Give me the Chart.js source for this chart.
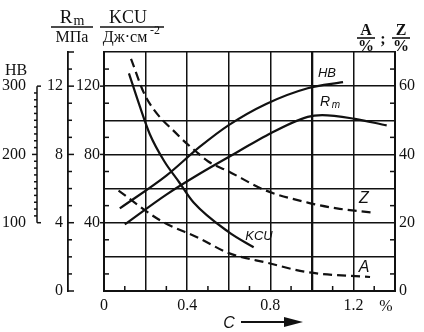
<!DOCTYPE html>
<html>
<head>
<meta charset="utf-8">
<script src="https://cdn.jsdelivr.net/npm/chart.js@4"></script>
<style>
body{margin:0;background:#fff}
canvas{display:block}
</style>
</head>
<body>
<canvas id="steel" width="424" height="332"></canvas>
<script>
// carbon content, % and the properties read against it
const hbC=[0.076,0.3,0.46,0.6,0.78,0.98,1.15]
const hbVal=[121,169,211,243,274,297,306]

const rmC=[0.1,0.3,0.46,0.65,0.78,0.98,1.05,1.2,1.36]
const rmVal=[3.9,5.65,6.87,8.2,9.1,10.2,10.3,10.1,9.7]

const kcuC=[0.12,0.17,0.22,0.29,0.36,0.43,0.6,0.72]
const kcuVal=[127.5,109,92,76,64,52,34.5,25.6]

const zC=[0.13,0.2,0.36,0.44,0.5,0.6,0.78,0.98,1.12,1.29]
const zVal=[68,57,45.4,41,38,35,29.4,25.9,24.2,23]

const aC=[0.07,0.27,0.46,0.6,0.79,0.98,1.28]
const aVal=[29.4,20.7,15.4,11.1,8.2,5.5,4.1]

const cLabels=[0,0.4,0.8,1.2]
const hbLabels=[100,200,300]
const rmLabels=[0,4,8,12]
const kcuLabels=[40,80,120]
const pctLabels=[0,20,40,60]

const INK="#111"
const SERIF='"Liberation Serif", serif'

function pts(xs,ys){
return xs.map((c,i)=>({x:c,y:ys[i]}))
}

function line(data,axis,dashed){
return {
data:data,
yAxisID:axis,
borderColor:INK,
borderWidth:2.2,
borderDash:dashed?[9,5]:[],
pointRadius:0,
fill:false,
cubicInterpolationMode:"monotone"
}
}

const near=(v,list)=>list.some(l=>Math.abs(v-l)<1e-6)

// ticks, brackets and all the lettering round the plot
const marks={
id:"marks",
afterDraw(chart){

const ctx=chart.ctx
const a=chart.chartArea
const s=chart.scales

ctx.save()
ctx.strokeStyle=INK
ctx.fillStyle=INK
ctx.lineWidth=1.5

const seg=(x1,y1,x2,y2)=>{
ctx.beginPath()
ctx.moveTo(x1,y1)
ctx.lineTo(x2,y2)
ctx.stroke()
}

for(let i=1;i<14;i+=2){
const px=s.x.getPixelForValue(i/10)
seg(px,a.bottom,px,a.bottom-5)
}

for(let v=10;v<140;v+=20){
const py=s.kcu.getPixelForValue(v)
seg(a.left,py,a.left+5,py)
}
kcuLabels.forEach(v=>{
const py=s.kcu.getPixelForValue(v)
seg(a.left-4,py,a.left,py)
})

for(let v=5;v<70;v+=10){
const py=s.pct.getPixelForValue(v)
seg(a.right,py,a.right-5,py)
}

// R_m scale
const rx=s.rm.right
for(let v=1;v<14;v++){
const py=s.rm.getPixelForValue(v)
seg(rx,py,rx+(v%4==0?6:4),py)
}
seg(rx,a.bottom,rx+6,a.bottom)
seg(rx,a.top,rx+6,a.top)

// HB bracket
const hx=s.hb.right-1
const y100=s.hb.getPixelForValue(100)
const y300=s.hb.getPixelForValue(300)
seg(hx,y100,hx,y300)
for(let v=110;v<300;v+=10){
const py=s.hb.getPixelForValue(v)
seg(hx,py,hx-(v%100==0?5:3),py)
}
seg(hx,y100,hx+4,y100)
seg(hx,y300,hx+4,y300)

ctx.textAlign="center"
ctx.textBaseline="alphabetic"

ctx.font="16px "+SERIF
ctx.fillText("HB",16,75)

// R_m / МПа
ctx.font="19px "+SERIF
ctx.fillText("R",66,23)
ctx.font="14px "+SERIF
ctx.fillText("m",79,25)
ctx.font="16px "+SERIF
ctx.fillText("МПа",72,42)
ctx.lineWidth=1.6
seg(51,27,93,27)

// KCU / Дж·см⁻²
ctx.font="18px "+SERIF
ctx.fillText("KCU",128,23)
ctx.font="16px "+SERIF
ctx.fillText("Дж·см",125,42)
ctx.font="12px "+SERIF
ctx.fillText("-2",155,34)
seg(100,27,164,27)

// A;Z / %;%
ctx.font="bold 16px "+SERIF
ctx.fillText("A",366,35)
ctx.fillText("Z",401,35)
ctx.fillText("%",366,51)
ctx.fillText("%",401,51)
ctx.fillText(";",383,44)
seg(357,38,375,38)
seg(392,38,410,38)

ctx.font="16px "+SERIF
ctx.fillText("%",386,311)

// curve names
ctx.font='italic 13px "Liberation Sans", sans-serif'
ctx.fillText("HB",327,77)
ctx.fillText("KCU",259,240)
ctx.font='italic 14px "Liberation Sans", sans-serif'
ctx.fillText("R",325,106)
ctx.font='italic 10px "Liberation Sans", sans-serif'
ctx.fillText("m",336,108)
ctx.font='italic 16px "Liberation Sans", sans-serif'
ctx.fillText("Z",364,203)
ctx.fillText("A",364,272)
ctx.fillText("C",229,328)

ctx.lineWidth=2
seg(241,322,290,322)
ctx.beginPath()
ctx.moveTo(303,322)
ctx.lineTo(284,317)
ctx.lineTo(284,327)
ctx.closePath()
ctx.fill()

ctx.restore()
}
}

const tickFont={family:SERIF,size:16}

new Chart(document.getElementById("steel"),{
type:"line",
data:{
datasets:[
line(pts(hbC,hbVal),"hb",false),
line(pts(rmC,rmVal),"rm",false),
line(pts(kcuC,kcuVal),"kcu",false),
line(pts(zC,zVal),"pct",true),
line(pts(aC,aVal),"pct",true)
]
},
options:{
responsive:false,
animation:false,
devicePixelRatio:1,
layout:{padding:{top:52,left:0,right:0,bottom:0}},
plugins:{legend:{display:false},tooltip:{enabled:false}},
scales:{
x:{
type:"linear",
min:0,
max:1.4,
afterFit:sc=>{sc.height=41},
ticks:{
stepSize:0.2,
autoSkip:false,
maxRotation:0,
padding:5,
color:INK,
font:tickFont,
callback:v=>near(v,cLabels)?(Math.round(v*10)/10).toString():""
},
grid:{
color:INK,
drawTicks:false,
lineWidth:c=>c.tick&&Math.abs(c.tick.value-1)<1e-6?2.3:1.5
},
border:{color:INK,width:2}
},
kcu:{
position:"left",
weight:0,
min:0,
max:140,
afterFit:sc=>{sc.width=36},
ticks:{
stepSize:20,
autoSkip:false,
padding:4,
color:INK,
font:tickFont,
callback:v=>kcuLabels.includes(v)?String(v):""
},
grid:{color:INK,lineWidth:1.5,drawTicks:false},
border:{color:INK,width:2}
},
rm:{
position:"left",
weight:1,
min:0,
max:14,
afterFit:sc=>{sc.width=30},
ticks:{
stepSize:4,
autoSkip:false,
padding:5,
color:INK,
font:tickFont,
callback:v=>rmLabels.includes(v)?String(v):""
},
grid:{drawOnChartArea:false,drawTicks:false},
border:{color:INK,width:1.8}
},
hb:{
position:"left",
weight:2,
min:0,
max:350,
afterFit:sc=>{sc.width=38},
ticks:{
stepSize:100,
autoSkip:false,
padding:4,
color:INK,
font:tickFont,
callback:v=>hbLabels.includes(v)?String(v):""
},
grid:{display:false},
border:{display:false}
},
pct:{
position:"right",
min:0,
max:70,
afterFit:sc=>{sc.width=29},
ticks:{
stepSize:20,
autoSkip:false,
padding:4,
color:INK,
font:tickFont,
callback:v=>pctLabels.includes(v)?String(v):""
},
grid:{drawOnChartArea:false,drawTicks:false},
border:{color:INK,width:2}
}
}
},
plugins:[marks]
})
</script>
</body>
</html>
